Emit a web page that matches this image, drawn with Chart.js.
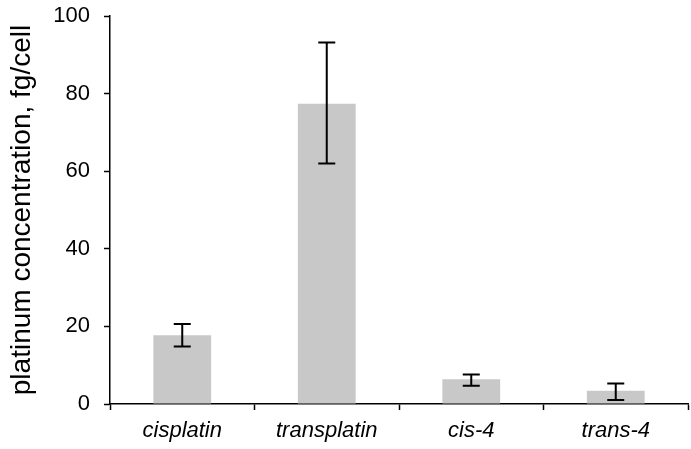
<!DOCTYPE html>
<html>
<head>
<meta charset="utf-8">
<script src="https://cdn.jsdelivr.net/npm/chart.js@4"></script>
<style>
  html, body { margin: 0; padding: 0; background: #fff; }
  #box { width: 691px; height: 449px; }
</style>
</head>
<body>
<div id="box"><canvas id="grafico"></canvas></div>
<script>
// dados
var categorias = ["cisplatin", "transplatin", "cis-4", "trans-4"];
var valores = [17.7, 77.4, 6.4, 3.4];
var erroBaixo = [14.8, 62.0, 4.7, 1.0];
var erroAlto = [20.6, 93.2, 7.6, 5.3];
var ticksY = [0, 20, 40, 60, 80, 100];

var fonte = "'Liberation Sans', Arial, Helvetica, sans-serif";

// desenha as barras de erro em cima das barras
var barrasDeErro = {
  id: "barrasDeErro",
  afterDatasetsDraw: function(chart) {
    var ctx = chart.ctx;
    var meta = chart.getDatasetMeta(0);
    var y = chart.scales.y;
    ctx.save();
    ctx.strokeStyle = "#000";
    ctx.lineWidth = 2;
    for (var i = 0; i < meta.data.length; i++) {
      var x = meta.data[i].x;
      var yAlto = y.getPixelForValue(erroAlto[i]);
      var yBaixo = y.getPixelForValue(erroBaixo[i]);
      ctx.beginPath();
      ctx.moveTo(x, yAlto);
      ctx.lineTo(x, yBaixo);
      ctx.moveTo(x - 8.5, yAlto);
      ctx.lineTo(x + 8.5, yAlto);
      ctx.moveTo(x - 8.5, yBaixo);
      ctx.lineTo(x + 8.5, yBaixo);
      ctx.stroke();
    }
    ctx.restore();
  }
};

var ctx = document.getElementById("grafico").getContext("2d");

new Chart(ctx, {
  type: "bar",
  data: {
    labels: categorias,
    datasets: [{
      data: valores,
      backgroundColor: "#c8c8c8",
      borderWidth: 0,
      categoryPercentage: 1,
      barPercentage: 0.4
    }]
  },
  plugins: [barrasDeErro],
  options: {
    responsive: true,
    maintainAspectRatio: false,
    animation: false,
    layout: { padding: { top: 16, right: 3, left: 0, bottom: 0 } },
    plugins: {
      legend: { display: false },
      tooltip: { enabled: false }
    },
    scales: {
      x: {
        grid: {
          offset: true,
          drawOnChartArea: false,
          drawTicks: true,
          tickLength: 6,
          tickWidth: 1.5,
          tickColor: "#000"
        },
        border: { display: true, color: "#000", width: 1.5 },
        ticks: {
          color: "#000",
          padding: 8,
          font: { family: fonte, size: 22, style: "italic" }
        },
        afterFit: function(scale) {
          scale.height = 45;
          scale.paddingLeft = 0;
          scale.paddingRight = 0;
        }
      },
      y: {
        min: 0,
        max: 100,
        afterBuildTicks: function(scale) {
          scale.ticks = ticksY.map(function(v) { return { value: v }; });
        },
        grid: {
          drawOnChartArea: false,
          drawTicks: true,
          tickLength: 6,
          tickWidth: 1.5,
          tickColor: "#000"
        },
        border: { display: true, color: "#000", width: 1.5 },
        ticks: {
          color: "#000",
          padding: 14,
          font: { family: fonte, size: 22 }
        },
        title: {
          display: true,
          text: "platinum concentration, fg/cell",
          color: "#000",
          padding: { top: 5, bottom: 0 },
          font: { family: fonte, size: 28 }
        },
        afterFit: function(scale) {
          scale.width = 110;
          scale.paddingTop = 0;
          scale.paddingBottom = 0;
        }
      }
    }
  }
});
</script>
</body>
</html>
